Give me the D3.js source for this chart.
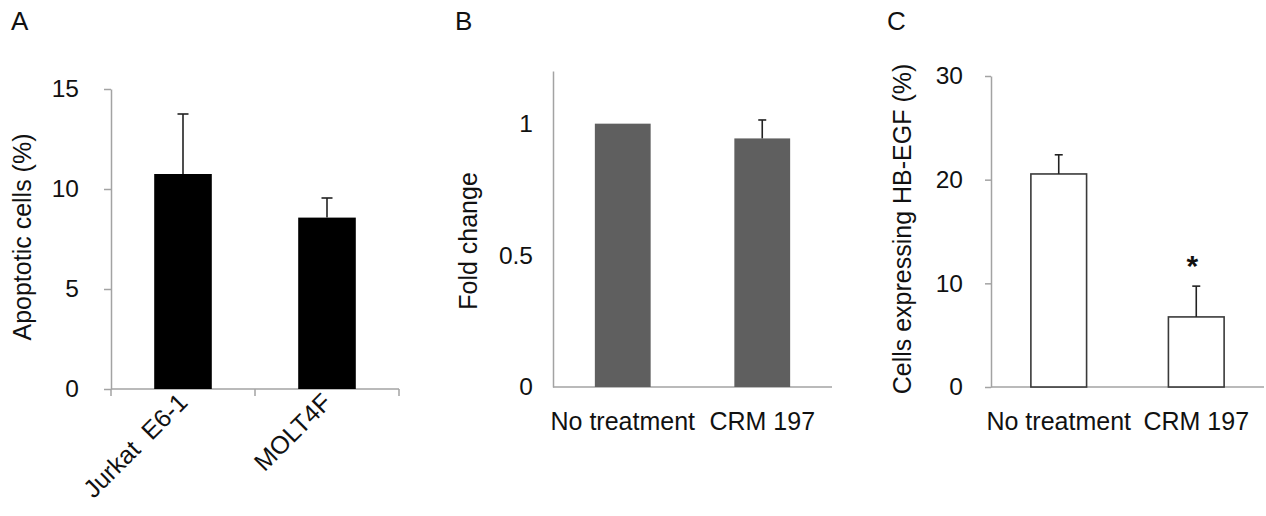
<!DOCTYPE html>
<html>
<head>
<meta charset="utf-8">
<script src="https://cdn.jsdelivr.net/npm/d3@7"></script>
<style>
  body { margin: 0; background: #fff; }
  svg { display: block; font-family: "Liberation Sans", Arial, sans-serif; }
</style>
</head>
<body>
<div id="chart"></div>
<script>
// panel A
const categoriesA = ['Jurkat  E6-1', 'MOLT4F'];
const valuesA = [10.75, 8.57];
const errorsA = [3.0, 0.98];
const ticksA = [0, 5, 10, 15];

// panel B
const categoriesB = ['No treatment', 'CRM 197'];
const valuesB = [1.0, 0.944];
const errorsB = [0, 0.07];
const ticksB = [0, 0.5, 1];

// panel C
const categoriesC = ['No treatment', 'CRM 197'];
const valuesC = [20.55, 6.76];
const errorsC = [1.85, 2.97];
const ticksC = [0, 10, 20, 30];
const significantC = [false, true];

const width = 1266;
const height = 516;
const axisColor = '#a3a3a3';

const svg = d3.select('#chart').append('svg')
    .attr('width', width)
    .attr('height', height);

function drawPanel(opts) {
    const g = svg.append('g');

    const y = d3.scaleLinear().domain(opts.yDomain).range([opts.bottom, opts.top]);
    const x = d3.scaleBand()
        .domain(opts.categories)
        .range([opts.left, opts.right])
        .paddingInner(opts.padInner)
        .paddingOuter(opts.padOuter);

    // y axis
    const yAxis = d3.axisLeft(y)
        .tickValues(opts.ticks)
        .tickFormat(d3.format('~g'))
        .tickSizeInner(opts.yTickSize)
        .tickSizeOuter(0)
        .tickPadding(opts.yTickPadding);
    const ya = g.append('g')
        .attr('transform', `translate(${opts.left},0)`)
        .call(yAxis);
    ya.select('.domain').attr('stroke', axisColor).attr('stroke-width', 1.5);
    ya.selectAll('.tick line').attr('stroke', axisColor).attr('stroke-width', 1.5);
    ya.selectAll('.tick text')
        .attr('fill', '#111')
        .style('font-size', '24.5px')
        .style('font-family', '"Liberation Sans", Arial, sans-serif');

    // x axis line
    g.append('line')
        .attr('x1', opts.left).attr('x2', opts.right)
        .attr('y1', opts.bottom).attr('y2', opts.bottom)
        .attr('stroke', axisColor).attr('stroke-width', 1.5);

    if (opts.xTicks) {
        const n = opts.categories.length;
        const r = x.range();
        d3.range(n + 1).forEach(i => {
            const px = r[0] + i * (r[1] - r[0]) / n;
            g.append('line')
                .attr('x1', px).attr('x2', px)
                .attr('y1', opts.bottom).attr('y2', opts.bottom + 7)
                .attr('stroke', axisColor).attr('stroke-width', 1.5);
        });
    }

    // bars
    g.selectAll('rect.bar')
        .data(opts.values)
        .join('rect')
        .attr('class', 'bar')
        .attr('x', (d, i) => x(opts.categories[i]))
        .attr('width', x.bandwidth())
        .attr('y', d => y(d))
        .attr('height', d => y(0) - y(d))
        .attr('fill', opts.fill)
        .attr('stroke', opts.stroke || 'none')
        .attr('stroke-width', opts.stroke ? 1.6 : 0);

    // error bars
    opts.values.forEach((v, i) => {
        const e = opts.errors[i];
        if (!e) return;
        const cx = x(opts.categories[i]) + x.bandwidth() / 2;
        g.append('line')
            .attr('x1', cx).attr('x2', cx)
            .attr('y1', y(v)).attr('y2', y(v + e))
            .attr('stroke', '#222').attr('stroke-width', 1.6);
        g.append('line')
            .attr('x1', cx - opts.cap / 2).attr('x2', cx + opts.cap / 2)
            .attr('y1', y(v + e)).attr('y2', y(v + e))
            .attr('stroke', '#222').attr('stroke-width', 1.6);
        if (opts.significant && opts.significant[i]) {
            g.append('text')
                .attr('x', cx - 4)
                .attr('y', y(v + e) - 10)
                .attr('text-anchor', 'middle')
                .style('font-size', '30px')
                .style('font-weight', 'bold')
                .attr('fill', '#111')
                .text('*');
        }
    });

    // category labels
    opts.categories.forEach(c => {
        const cx = x(c) + x.bandwidth() / 2;
        const t = g.append('text')
            .style('font-size', '25px')
            .style('white-space', 'pre')
            .attr('fill', '#111')
            .text(c);
        if (opts.rotateLabels) {
            t.attr('text-anchor', 'end')
                .attr('transform', `translate(${cx + 6},${opts.bottom + 15}) rotate(-45)`);
        } else {
            t.attr('text-anchor', 'middle')
                .attr('x', cx)
                .attr('y', opts.bottom + 43);
        }
    });

    // y title
    g.append('text')
        .attr('transform', `translate(${opts.titleX},${opts.titleY}) rotate(-90)`)
        .attr('text-anchor', 'middle')
        .style('font-size', '25px')
        .attr('fill', '#111')
        .text(opts.yTitle);

    // panel letter
    g.append('text')
        .attr('x', opts.letterX)
        .attr('y', 30)
        .style('font-size', '26px')
        .attr('fill', '#111')
        .text(opts.letter);
}

drawPanel({
    letter: 'A', letterX: 11,
    categories: categoriesA, values: valuesA, errors: errorsA, ticks: ticksA,
    yDomain: [0, 15], top: 89, bottom: 389, left: 111, right: 399,
    padInner: 0.6, padOuter: 0.3,
    yTickSize: 7, yTickPadding: 25, xTicks: true, rotateLabels: true,
    fill: '#000', cap: 11,
    yTitle: 'Apoptotic cells (%)', titleX: 31, titleY: 237
});

drawPanel({
    letter: 'B', letterX: 455,
    categories: categoriesB, values: valuesB, errors: errorsB, ticks: ticksB,
    yDomain: [0, 1.2], top: 71, bottom: 387, left: 553, right: 832,
    padInner: 0.6, padOuter: 0.3,
    yTickSize: 0, yTickPadding: 20, xTicks: false, rotateLabels: false,
    fill: '#5f5f5f', cap: 8,
    yTitle: 'Fold change', titleX: 477, titleY: 241
});

drawPanel({
    letter: 'C', letterX: 887,
    categories: categoriesC, values: valuesC, errors: errorsC, ticks: ticksC,
    significant: significantC,
    yDomain: [0, 30], top: 76, bottom: 387, left: 991, right: 1264,
    padInner: 0.595, padOuter: 0.29,
    yTickSize: 6, yTickPadding: 22, xTicks: false, rotateLabels: false,
    fill: '#fff', stroke: '#3a3a3a', cap: 8,
    yTitle: 'Cells expressing HB-EGF (%)', titleX: 911, titleY: 229
});
</script>
</body>
</html>
